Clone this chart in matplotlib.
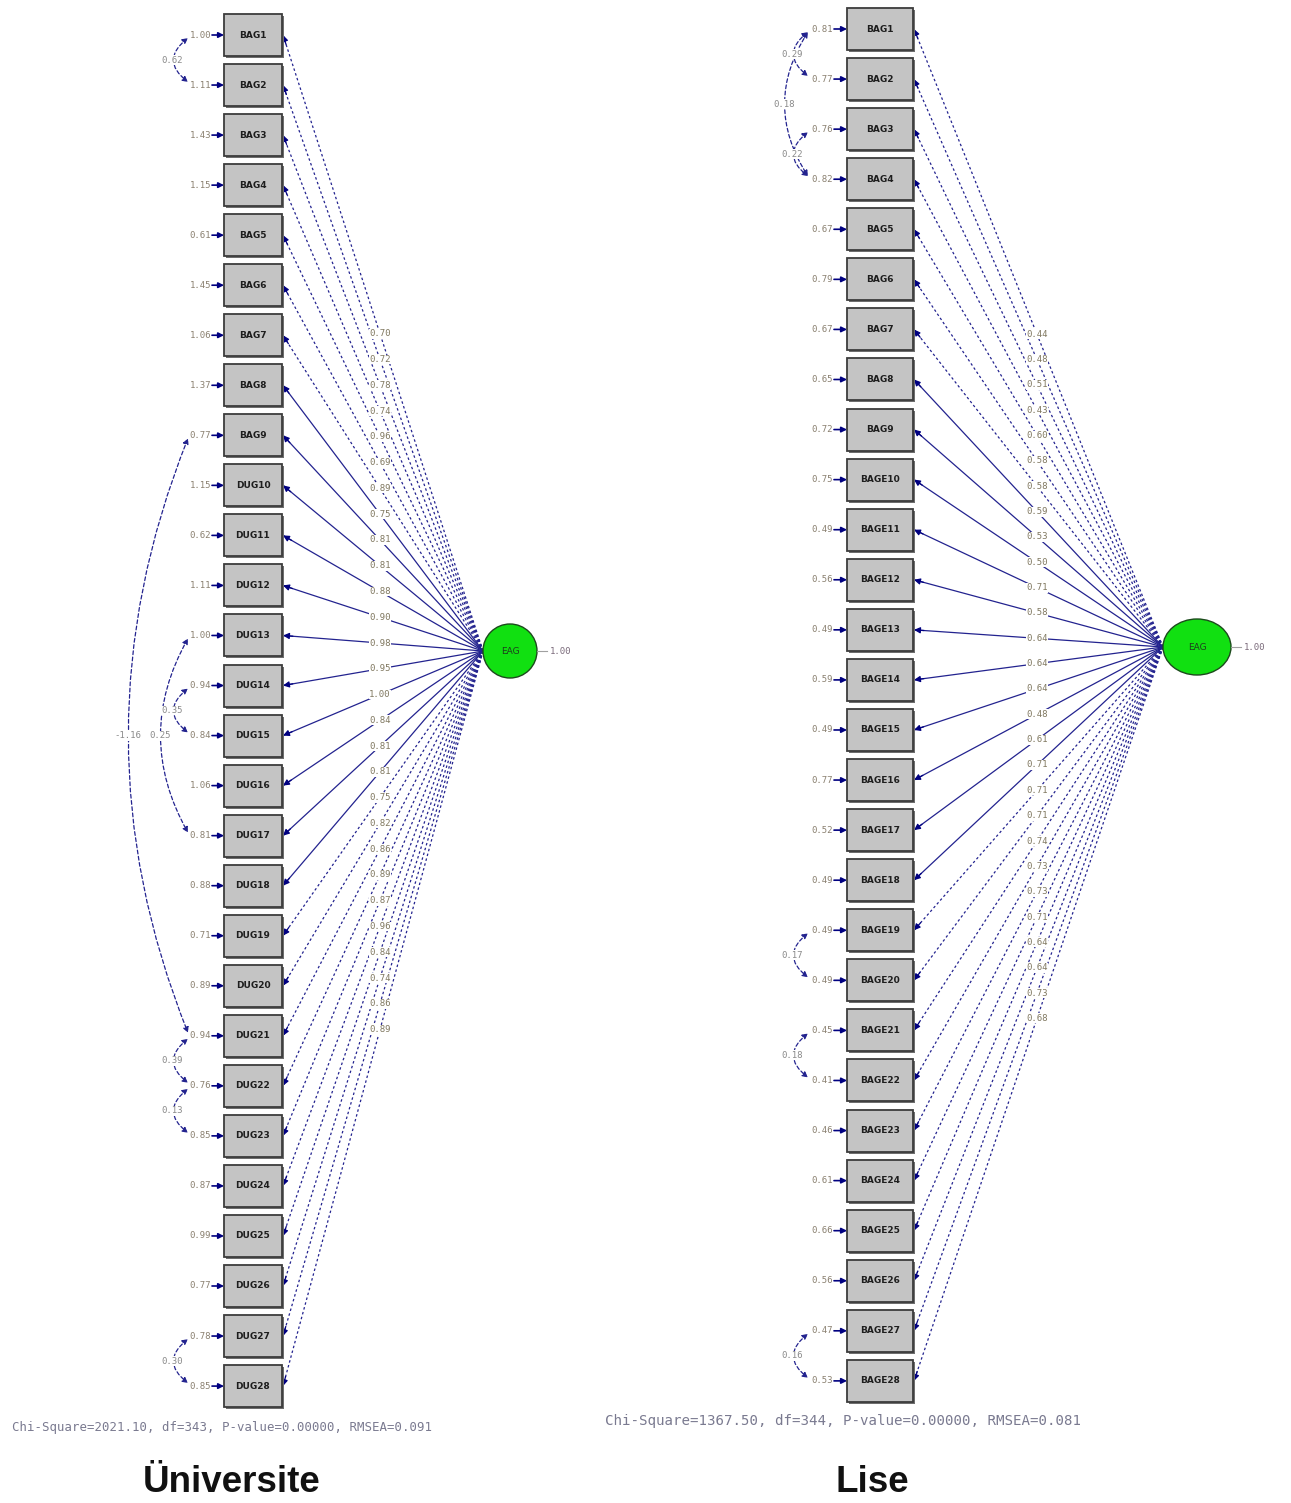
import matplotlib
matplotlib.use("Agg")
import matplotlib.pyplot as plt
from matplotlib.patches import Rectangle, Ellipse, FancyArrowPatch

# ---------------- data ----------------
left_items = ["BAG1", "BAG2", "BAG3", "BAG4", "BAG5", "BAG6", "BAG7", "BAG8", "BAG9",
              "DUG10", "DUG11", "DUG12", "DUG13", "DUG14", "DUG15", "DUG16", "DUG17",
              "DUG18", "DUG19", "DUG20", "DUG21", "DUG22", "DUG23", "DUG24", "DUG25",
              "DUG26", "DUG27", "DUG28"]
left_errors = [1.00, 1.11, 1.43, 1.15, 0.61, 1.45, 1.06, 1.37, 0.77, 1.15, 0.62, 1.11,
               1.00, 0.94, 0.84, 1.06, 0.81, 0.88, 0.71, 0.89, 0.94, 0.76, 0.85, 0.87,
               0.99, 0.77, 0.78, 0.85]
left_loadings = [0.70, 0.72, 0.78, 0.74, 0.96, 0.69, 0.89, 0.75, 0.81, 0.81, 0.88, 0.90,
                 0.98, 0.95, 1.00, 0.84, 0.81, 0.81, 0.75, 0.82, 0.86, 0.89, 0.87, 0.96,
                 0.84, 0.74, 0.86, 0.89]
left_covs = [(0, 1, "0.62"), (8, 20, "-1.16"), (12, 16, "0.25"), (13, 14, "0.35"),
             (20, 21, "0.39"), (21, 22, "0.13"), (26, 27, "0.30")]
left_fit = "Chi-Square=2021.10, df=343, P-value=0.00000, RMSEA=0.091"
left_title = "Üniversite"

right_items = ["BAG1", "BAG2", "BAG3", "BAG4", "BAG5", "BAG6", "BAG7", "BAG8", "BAG9",
               "BAGE10", "BAGE11", "BAGE12", "BAGE13", "BAGE14", "BAGE15", "BAGE16",
               "BAGE17", "BAGE18", "BAGE19", "BAGE20", "BAGE21", "BAGE22", "BAGE23",
               "BAGE24", "BAGE25", "BAGE26", "BAGE27", "BAGE28"]
right_errors = [0.81, 0.77, 0.76, 0.82, 0.67, 0.79, 0.67, 0.65, 0.72, 0.75, 0.49, 0.56,
                0.49, 0.59, 0.49, 0.77, 0.52, 0.49, 0.49, 0.49, 0.45, 0.41, 0.46, 0.61,
                0.66, 0.56, 0.47, 0.53]
right_loadings = [0.44, 0.48, 0.51, 0.43, 0.60, 0.58, 0.58, 0.59, 0.53, 0.50, 0.71, 0.58,
                  0.64, 0.64, 0.64, 0.48, 0.61, 0.71, 0.71, 0.71, 0.74, 0.73, 0.73, 0.71,
                  0.64, 0.64, 0.73, 0.68]
right_covs = [(0, 1, "0.29"), (0, 3, "0.18"), (2, 3, "0.22"), (18, 19, "0.17"),
              (20, 21, "0.18"), (26, 27, "0.16")]
right_fit = "Chi-Square=1367.50, df=344, P-value=0.00000, RMSEA=0.081"
right_title = "Lise"

latent_name = "EAG"
latent_var = "1.00"

# ---------------- drawing ----------------
NAVY = "#23238f"
ARROW = "#000080"
TXT = "#8a8070"

fig = plt.figure(figsize=(12.91, 15.03), dpi=100)
ax = fig.add_axes([0, 0, 1, 1])
ax.set_xlim(0, 1291)
ax.set_ylim(1503, 0)
ax.axis("off")

def arrow(p0, p1, style="-|>", ls="-", lw=0.9, ms=8, color=NAVY, rad=0.0, z=2):
    a = FancyArrowPatch(p0, p1, arrowstyle=style, mutation_scale=ms, lw=lw,
                        color=color, linestyle=ls,
                        connectionstyle=f"arc3,rad={rad}", shrinkA=0, shrinkB=0,
                        zorder=z)
    ax.add_patch(a)

def panel(items, errors, loadings, covs, fit, title, cfg):
    bx0, bw, bh = cfg["bx0"], cfg["bw"], cfg["bh"]
    y0, step = cfg["y0"], cfg["step"]
    lx, ly, rx, ry = cfg["lat"]
    ys = [y0 + step * i for i in range(len(items))]
    start = (lx - rx, ly)
    # loading lines
    for i, (y, lam) in enumerate(zip(ys, loadings)):
        end = (bx0 + bw + 1, y)
        steep = abs(y - ly) > 270
        ls = (0, (2.0, 2.0)) if steep else "-"
        ax.plot([start[0], end[0]], [start[1], end[1]], color=NAVY, lw=0.9,
                linestyle=ls, zorder=1)
        dx = start[0] - end[0]
        dy = ly - y
        L = (dx ** 2 + dy ** 2) ** 0.5
        arrow((end[0] + 10 * dx / L, y + 10 * dy / L), end, ms=9, color=ARROW, z=3)
        # label on the line at fixed x
        t = (cfg["labx"] - end[0]) / dx
        yl = y + t * dy
        ax.text(cfg["labx"], yl, f"{lam:.2f}", fontsize=6.5, color="#807860",
                ha="center", va="center", family="DejaVu Sans Mono",
                bbox=dict(facecolor="white", edgecolor="none", pad=0.3), zorder=4)
    # boxes
    for y, name in zip(ys, items):
        ax.add_patch(Rectangle((bx0 + 2, y - bh / 2 + 2), bw, bh,
                               facecolor="#6e6e6e", edgecolor="none", zorder=4))
        ax.add_patch(Rectangle((bx0, y - bh / 2), bw, bh, facecolor="#c4c4c4",
                               edgecolor="#3c3c3c", lw=1.3, zorder=5))
        ax.text(bx0 + bw / 2, y, name, fontsize=6.5, ha="center", va="center",
                color="#1e1e1e", fontweight="bold", zorder=6)
    # error terms
    for y, e in zip(ys, errors):
        ax.text(cfg["errx"], y, f"{e:.2f}", fontsize=6.5, color=TXT, ha="right",
                va="center", family="DejaVu Sans Mono", zorder=6)
        arrow((cfg["errx"] + 1, y), (bx0, y), ms=8, color=ARROW, lw=1.2, z=6)
    # covariances
    cx = cfg["covx"]
    for i, j, lab in covs:
        d = ys[j] - ys[i]
        bulge = 12 + 0.08 * d
        rad = 2 * bulge / d
        arrow((cx, ys[i] + 3), (cx, ys[j] - 3), style="<|-|>", ls=(0, (3, 2)),
              lw=0.9, ms=8, color=NAVY, rad=rad, z=3)
        ax.text(cx - bulge, (ys[i] + ys[j]) / 2, lab, fontsize=6.5, color="#8a8a8a",
                ha="center", va="center", family="DejaVu Sans Mono",
                bbox=dict(facecolor="white", edgecolor="none", pad=0.3), zorder=5)
    # latent
    ax.add_patch(Ellipse((lx, ly), 2 * rx, 2 * ry, facecolor="#11e011",
                         edgecolor="#1c4a1c", lw=1.0, zorder=6))
    ax.text(lx, ly, latent_name, fontsize=6.5, ha="center", va="center",
            color="#1e3e1e", zorder=7)
    ax.plot([lx + rx, lx + rx + 10], [ly, ly], color="#a0a0a0", lw=0.8, zorder=6)
    ax.text(lx + rx + 13, ly + 1, latent_var, fontsize=6.5, ha="left", va="center",
            color="#7a6a7a", family="DejaVu Sans Mono", zorder=7)
    # fit text and title
    ax.text(cfg["fitx"], cfg["fity"], fit, fontsize=cfg["fitfs"], ha="left",
            va="center", color="#7a7a90", family="DejaVu Sans Mono")
    ax.text(cfg["titx"], 1483, title, fontsize=26.5, ha="center", va="center",
            fontweight="bold", family="Liberation Sans", color="#111111")

panel(left_items, left_errors, left_loadings, left_covs, left_fit, left_title,
      dict(bx0=224, bw=58, bh=42, y0=35, step=50.04, lat=(510, 651, 27, 27),
           labx=380, errx=211, covx=188, fitx=12, fity=1427, fitfs=8.95, titx=232))
panel(right_items, right_errors, right_loadings, right_covs, right_fit, right_title,
      dict(bx0=847, bw=66, bh=42, y0=29, step=50.07, lat=(1197, 647, 34, 28),
           labx=1037, errx=833, covx=808, fitx=605, fity=1421, fitfs=10.15, titx=872))

fig.savefig("out.png", dpi=100)
